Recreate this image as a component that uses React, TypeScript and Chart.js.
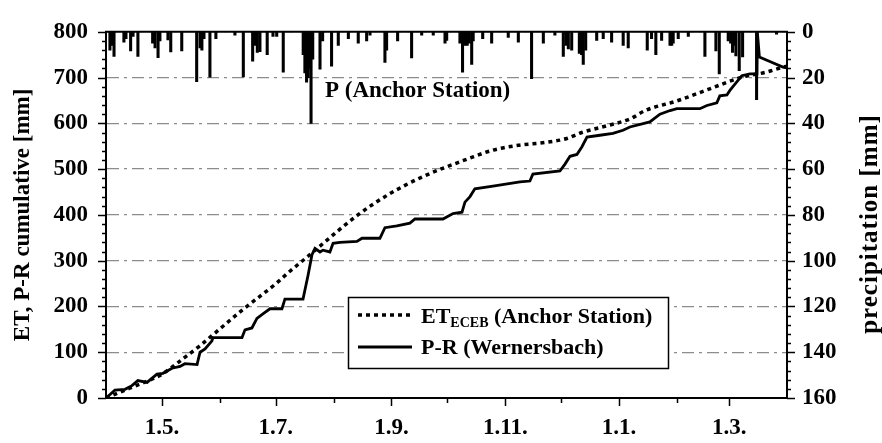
import { useEffect, useRef } from 'react';
import { Chart, registerables } from 'chart.js';

Chart.register(...registerables);

const FONT = "'Liberation Serif', 'Times New Roman', serif";

// Day index: 0 = 1 April, 365 = 1 April of the following year
const etDays = [0, 13, 24, 30, 42, 50, 57, 73, 92, 98, 109, 115, 135, 152, 169, 195, 207, 221, 235, 247, 255, 265, 281, 289, 306, 324, 341, 354, 363, 365];
const etValues = [0, 22, 40, 52, 88, 113, 137, 192, 253, 275, 312, 333, 400, 446, 482, 524, 541, 552, 558, 567, 580, 591, 610, 628, 649, 676, 701, 712, 723, 725];

const prDays = [0, 0.5, 4.8, 10.2, 13.9, 17.1, 22, 27.3, 30.5, 35.4, 39.7, 42.3, 48.8, 50.4, 53.1, 56.8, 57.3, 72.9, 74.5, 78.2, 80.9, 84.1, 87.9, 94.3, 95.9, 105.6, 108.3, 110.4, 112, 114.7, 116.3, 120, 121.7, 125.4, 134.5, 137.2, 146.8, 149.5, 155.9, 162.9, 165.6, 180.6, 186, 190.8, 192.4, 195.1, 197.7, 207.4, 221.9, 227.2, 228.8, 243.3, 246, 248.7, 252.4, 255.1, 257.8, 264.7, 271.7, 277.1, 280.8, 291.5, 296.9, 302.3, 306, 318.3, 322.1, 327.4, 329, 332.8, 334.4, 338.2, 340.8, 345.1, 348.9, 349.1, 350.2, 355.8, 362.8, 365];
const prValues = [0, 0, 17, 19, 27, 38, 34, 52, 54, 65, 69, 75, 73, 100, 107, 125, 132, 132, 149, 153, 174, 184, 195, 195, 216, 216, 268, 313, 327, 319, 323, 319, 338, 340, 342, 349, 349, 372, 376, 382, 391, 391, 403, 406, 428, 440, 457, 463, 472, 474, 489, 496, 511, 528, 532, 549, 570, 574, 578, 585, 592, 603, 620, 628, 632, 632, 639, 645, 660, 662, 672, 691, 704, 708, 708, 800, 745, 735, 723, 721];

const precipDays = [2.1, 3.2, 4.3, 9.6, 10.7, 13.2, 14.5, 17.1, 25.0, 26.3, 27.9, 28.9, 33.2, 34.7, 40.6, 48.6, 50.4, 51.4, 52.5, 55.7, 58.9, 69.1, 73.6, 78.6, 79.9, 81.1, 82.5, 86.4, 89.5, 91.5, 95.0, 105.7, 106.6, 107.5, 108.4, 109.3, 109.9, 110.8, 114.7, 116.1, 120.9, 124.5, 129.9, 135.2, 139.7, 141.5, 149.5, 150.4, 156.3, 163.8, 169.2, 175.4, 181.7, 182.6, 189.7, 191.1, 192.4, 193.6, 194.7, 196.0, 196.8, 201.9, 206.7, 215.6, 221.0, 228.1, 234.4, 240.6, 245.1, 246.5, 247.8, 249.6, 253.7, 254.9, 255.8, 257.1, 263.0, 266.5, 271.0, 277.2, 279.9, 290.1, 292.4, 294.7, 297.8, 302.3, 303.2, 304.0, 306.7, 312.1, 321.0, 326.9, 328.7, 333.5, 334.8, 335.8, 336.9, 337.6, 339.4, 341.2, 348.7, 359.4];
const precipValues = [8, 6, 10.8, 4.5, 3, 8.4, 2, 10.8, 5, 7, 11.3, 4, 3.5, 8.8, 8.4, 21.8, 7, 8, 3, 19.8, 3, 1.5, 19.7, 12.8, 6, 9, 8.7, 10, 2, 2, 17.6, 10, 18, 22, 20, 16, 40, 12, 16.3, 4, 15, 5.9, 3, 5, 4, 1.5, 13.4, 8, 4, 11.4, 1.5, 1.5, 5, 3.8, 5, 17.6, 6, 6, 5, 14.3, 4, 3, 5, 2.5, 4.5, 20.5, 5, 1.5, 10.8, 6, 7.5, 8, 9.5, 10, 14.3, 8, 3.8, 3, 4.5, 6, 7, 8, 3, 10, 3.8, 6, 6, 5, 3, 2, 10.8, 8.4, 18.4, 4, 5, 9, 6, 10.5, 17, 11, 29.6, 1];

const monthTickDays = [30, 61, 91, 122, 153, 183, 214, 244, 275, 306, 334];
const monthTickLabels = ['1.5.', '', '1.7.', '', '1.9.', '', '1.11.', '', '1.1.', '', '1.3.'];

const leftTitle = 'ET, P-R cumulative [mm]';
const rightTitle = 'precipitation [mm]';
const annotationText = 'P (Anchor Station)';
const legendEtMain = 'ET';
const legendEtSub = 'ECEB';
const legendEtRest = ' (Anchor Station)';
const legendPr = 'P-R (Wernersbach)';

const decorPlugin = {
  id: 'decor',
  beforeDraw(chart: any) {
    const { ctx, width, height } = chart;
    ctx.save();
    ctx.fillStyle = '#fff';
    ctx.fillRect(0, 0, width, height);
    ctx.restore();
  },
  afterDraw(chart: any) {
    const { ctx, chartArea: a, scales } = chart;
    const y = scales.y;
    const yP = scales.yP;
    const x = scales.x;
    ctx.save();
    ctx.strokeStyle = '#000';
    ctx.lineWidth = 2;
    ctx.beginPath();
    ctx.moveTo(a.left - 1, a.top);
    ctx.lineTo(a.right + 1, a.top);
    ctx.stroke();

    ctx.lineWidth = 1.5;
    ctx.beginPath();
    for (let v = y.min; v <= y.max; v += 20) {
      const py = Math.round(y.getPixelForValue(v)) + 0.5;
      const len = v % 100 === 0 ? 8 : 4;
      ctx.moveTo(a.left - len, py);
      ctx.lineTo(a.left, py);
    }
    for (let v = yP.min; v <= yP.max; v += 4) {
      const py = Math.round(yP.getPixelForValue(v)) + 0.5;
      const len = v % 20 === 0 ? 8 : 4;
      ctx.moveTo(a.right, py);
      ctx.lineTo(a.right + len, py);
    }
    monthTickDays.forEach((d, i) => {
      const px = Math.round(x.getPixelForValue(d)) + 0.5;
      const len = monthTickLabels[i] ? 8 : 5;
      ctx.moveTo(px, a.bottom);
      ctx.lineTo(px, a.bottom + len);
    });
    ctx.stroke();

    // annotation
    ctx.fillStyle = '#000';
    ctx.font = `bold 23px ${FONT}`;
    ctx.textAlign = 'left';
    ctx.textBaseline = 'alphabetic';
    ctx.fillText(annotationText, 325, 97);

    // right title (reads bottom to top)
    ctx.save();
    ctx.translate(871, 224);
    ctx.rotate(-Math.PI / 2);
    ctx.font = `bold 25px ${FONT}`;
    (ctx as any).letterSpacing = '1px';
    ctx.textAlign = 'center';
    ctx.textBaseline = 'middle';
    ctx.fillText(rightTitle, 0, 0);
    ctx.restore();

    // legend
    const bx = 348, by = 297, bw = 320, bh = 71;
    ctx.fillStyle = '#fff';
    ctx.fillRect(bx, by, bw, bh);
    ctx.strokeStyle = '#000';
    ctx.lineWidth = 1.5;
    ctx.strokeRect(bx + 0.5, by + 0.5, bw, bh);

    ctx.lineWidth = 3.5;
    ctx.setLineDash([4, 4]);
    ctx.beginPath();
    ctx.moveTo(358, 315);
    ctx.lineTo(412, 315);
    ctx.stroke();
    ctx.setLineDash([]);
    ctx.lineWidth = 3;
    ctx.beginPath();
    ctx.moveTo(358, 347);
    ctx.lineTo(412, 347);
    ctx.stroke();

    ctx.fillStyle = '#000';
    ctx.textAlign = 'left';
    ctx.textBaseline = 'alphabetic';
    let tx = 421;
    ctx.font = `bold 22px ${FONT}`;
    ctx.fillText(legendEtMain, tx, 323);
    tx += ctx.measureText(legendEtMain).width;
    ctx.font = `bold 14px ${FONT}`;
    ctx.fillText(legendEtSub, tx, 327);
    tx += ctx.measureText(legendEtSub).width;
    ctx.font = `bold 22px ${FONT}`;
    ctx.fillText(legendEtRest, tx, 323);
    ctx.fillText(legendPr, 421, 354);
    ctx.restore();
  },
};

export default function App() {
  const canvasRef = useRef<HTMLCanvasElement | null>(null);

  useEffect(() => {
    const canvas = canvasRef.current;
    if (!canvas) return;
    const tickFont = { family: FONT, size: 23, weight: 'bold' as const };
    const chart = new Chart(canvas, {
      type: 'line',
      data: {
        datasets: [
          {
            type: 'line',
            label: 'ET',
            data: etDays.map((d, i) => ({ x: d, y: etValues[i] })),
            xAxisID: 'x',
            yAxisID: 'y',
            borderColor: '#000',
            borderWidth: 3.5,
            borderDash: [4, 4],
            cubicInterpolationMode: 'monotone',
            tension: 0.4,
            pointRadius: 0,
            fill: false,
          },
          {
            type: 'line',
            label: 'P-R',
            data: prDays.map((d, i) => ({ x: d, y: prValues[i] })),
            xAxisID: 'x',
            yAxisID: 'y',
            borderColor: '#000',
            borderWidth: 2.8,
            tension: 0,
            pointRadius: 0,
            fill: false,
          },
          {
            type: 'bar',
            label: 'P',
            data: precipDays.map((d, i) => ({ x: d, y: precipValues[i] })),
            xAxisID: 'x',
            yAxisID: 'yP',
            backgroundColor: '#000',
            borderWidth: 0,
            barThickness: 2.4,
            grouped: false,
          } as any,
        ],
      },
      options: {
        responsive: false,
        animation: false,
        layout: { padding: { top: 16, left: 0, right: 0, bottom: 0 } },
        plugins: {
          legend: { display: false },
          tooltip: { enabled: false },
        },
        elements: { point: { radius: 0 } },
        scales: {
          x: {
            type: 'linear',
            min: 0,
            max: 365,
            offset: false,
            afterBuildTicks: (s: any) => {
              s.ticks = monthTickDays.map((v) => ({ value: v }));
            },
            afterFit: (s: any) => {
              s.height = 45;
            },
            ticks: {
              autoSkip: false,
              maxRotation: 0,
              minRotation: 0,
              padding: 16,
              color: '#000',
              font: tickFont,
              callback: (_v: any, i: number) => monthTickLabels[i] ?? '',
            },
            grid: { display: false, drawTicks: false },
            border: { display: true, color: '#000', width: 2 },
          },
          y: {
            type: 'linear',
            position: 'left',
            min: 0,
            max: 800,
            ticks: { stepSize: 100, padding: 18, color: '#000', font: tickFont },
            grid: { color: '#8c8c8c', lineWidth: 1.3, drawTicks: false },
            border: { display: true, color: '#000', width: 2, dash: [12, 5, 3, 5] },
            title: {
              display: true,
              text: leftTitle,
              color: '#000',
              font: { family: FONT, size: 23, weight: 'bold' },
              padding: { top: 9, bottom: 0 },
            },
            afterFit: (s: any) => {
              s.width = 106;
            },
          },
          yP: {
            type: 'linear',
            position: 'right',
            min: 0,
            max: 160,
            reverse: true,
            ticks: { stepSize: 20, padding: 15, color: '#000', font: tickFont },
            grid: { drawOnChartArea: false, drawTicks: false },
            border: { display: true, color: '#000', width: 2 },
            afterFit: (s: any) => {
              s.width = 95;
            },
          },
        },
      } as any,
      plugins: [decorPlugin],
    });
    return () => chart.destroy();
  }, []);

  return (
    <div style={{ position: 'fixed', left: 0, top: 0, width: 882, height: 443, background: '#fff' }}>
      <canvas ref={canvasRef} width={882} height={443} style={{ width: 882, height: 443 }} />
    </div>
  );
}
